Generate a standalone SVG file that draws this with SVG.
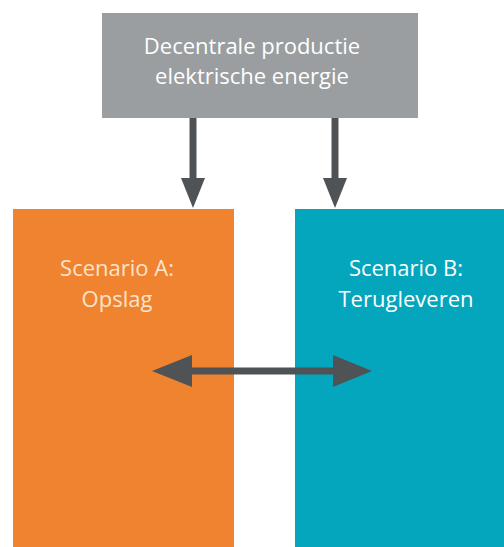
<svg xmlns="http://www.w3.org/2000/svg" width="504" height="547" viewBox="0 0 504 547">
<style>
.t{font-family:"Open Sans","Liberation Sans",sans-serif;font-size:22px;text-anchor:middle;fill:#ffffff}
.a{fill:#fbe3cc}
.c{stroke:#4f5356;stroke-width:7;fill:none}
.h{fill:#4f5356}
</style>
<rect width="504" height="547" fill="#ffffff"/>
<g id="source">
<rect x="102" y="13" width="316" height="105" fill="#9a9ea0"/>
<text class="t" x="252" y="54">Decentrale productie</text>
<text class="t" x="252" y="84">elektrische energie</text>
</g>
<g id="scenarioA">
<rect x="13" y="209" width="221" height="338" fill="#ef832f"/>
<text class="t a" x="117" y="276">Scenario A:</text>
<text class="t a" x="117" y="307">Opslag</text>
</g>
<g id="scenarioB">
<rect x="295" y="209" width="209" height="338" fill="#03a6bc"/>
<text class="t" x="406" y="276">Scenario B:</text>
<text class="t" x="406" y="307">Terugleveren</text>
</g>
<g id="connectors">
<line class="c" x1="193" y1="118" x2="193" y2="180"/>
<polygon class="h" points="181,178 205,178 193,208"/>
<line class="c" x1="335" y1="118" x2="335" y2="180"/>
<polygon class="h" points="323,178 347,178 335,208"/>
<line class="c" x1="190" y1="371" x2="336" y2="371"/>
<polygon class="h" points="152,371 192,355 192,387"/>
<polygon class="h" points="372,371 333,355 333,387"/>
</g>
</svg>
